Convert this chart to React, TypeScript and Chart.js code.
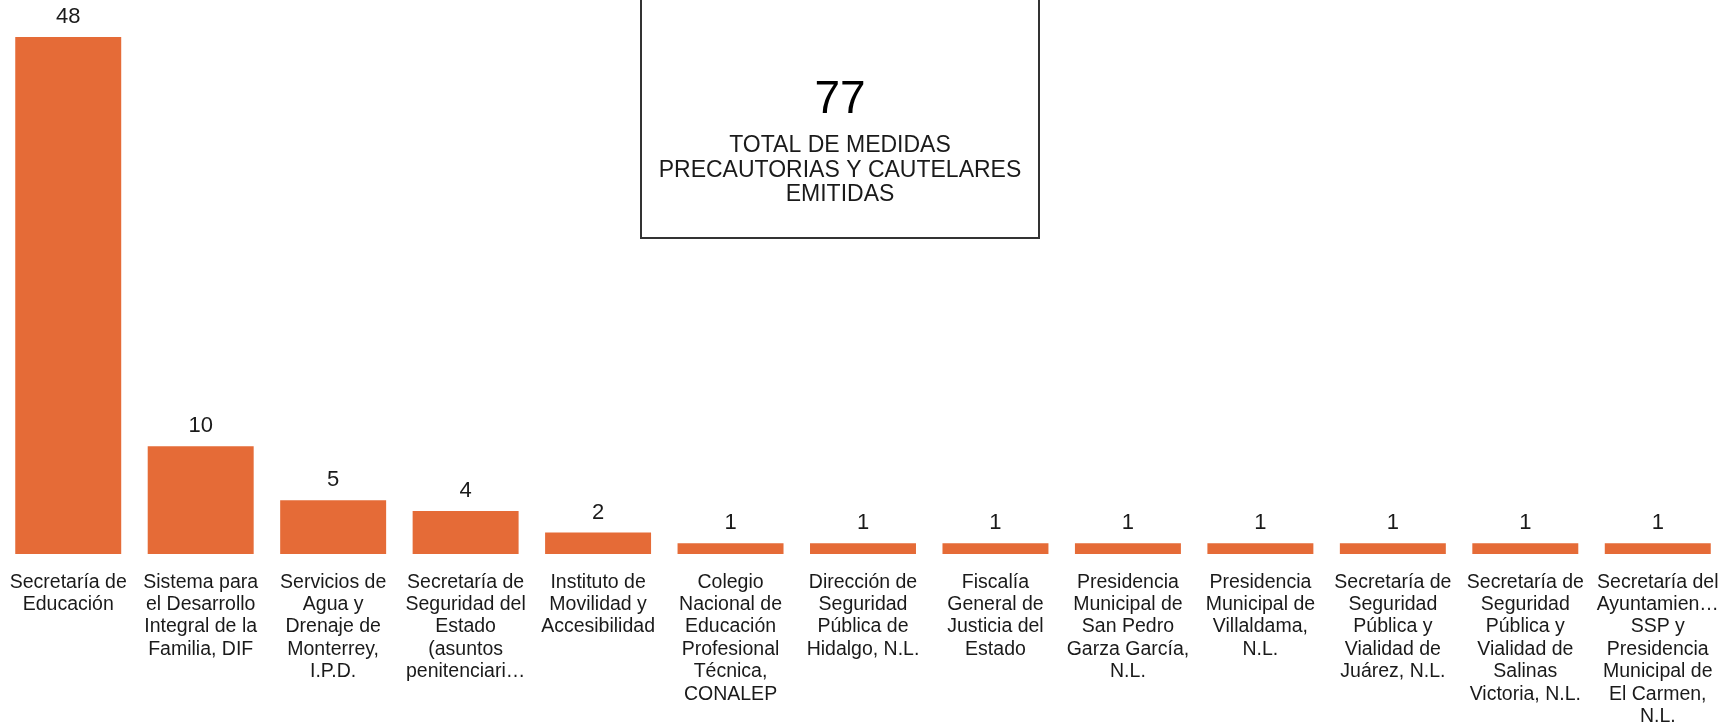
import React, { useEffect, useRef } from "react";
import { Chart, registerables } from "chart.js";

Chart.register(...registerables);

const categories: string[][] = [
  ["Secretaría de", "Educación"],
  ["Sistema para", "el Desarrollo", "Integral de la", "Familia, DIF"],
  ["Servicios de", "Agua y", "Drenaje de", "Monterrey,", "I.P.D."],
  ["Secretaría de", "Seguridad del", "Estado", "(asuntos", "penitenciari…"],
  ["Instituto de", "Movilidad y", "Accesibilidad"],
  ["Colegio", "Nacional de", "Educación", "Profesional", "Técnica,", "CONALEP"],
  ["Dirección de", "Seguridad", "Pública de", "Hidalgo, N.L."],
  ["Fiscalía", "General de", "Justicia del", "Estado"],
  ["Presidencia", "Municipal de", "San Pedro", "Garza García,", "N.L."],
  ["Presidencia", "Municipal de", "Villaldama,", "N.L."],
  ["Secretaría de", "Seguridad", "Pública y", "Vialidad de", "Juárez, N.L."],
  ["Secretaría de", "Seguridad", "Pública y", "Vialidad de", "Salinas", "Victoria, N.L."],
  ["Secretaría del", "Ayuntamien…", "SSP y", "Presidencia", "Municipal de", "El Carmen,", "N.L."],
];

const values: number[] = [48, 10, 5, 4, 2, 1, 1, 1, 1, 1, 1, 1, 1];

const totalValue = "77";
const totalLines: string[] = [
  "TOTAL DE MEDIDAS",
  "PRECAUTORIAS Y CAUTELARES",
  "EMITIDAS",
];

const FONT = "'Liberation Sans', Arial, Helvetica, sans-serif";
const BAR_COLOR = "#E56B37";
const TEXT_COLOR = "#1a1a1a";

export default function App() {
  const ref = useRef<HTMLCanvasElement | null>(null);

  useEffect(() => {
    if (!ref.current) return;

    const valueLabels = {
      id: "valueLabels",
      afterDatasetsDraw(chart: any) {
        const ctx = chart.ctx;
        const meta = chart.getDatasetMeta(0);
        ctx.save();
        ctx.font = `22px ${FONT}`;
        ctx.fillStyle = TEXT_COLOR;
        ctx.textAlign = "center";
        ctx.textBaseline = "middle";
        meta.data.forEach((bar: any, i: number) => {
          ctx.fillText(String(values[i]), bar.x, bar.y - 20);
        });
        ctx.restore();
      },
    };

    const totalBox = {
      id: "totalBox",
      afterDraw(chart: any) {
        const ctx = chart.ctx;
        ctx.save();
        ctx.strokeStyle = "#333333";
        ctx.lineWidth = 2;
        ctx.strokeRect(641, -10, 398, 248);
        ctx.fillStyle = "#000000";
        ctx.textAlign = "center";
        ctx.textBaseline = "middle";
        ctx.font = `46px ${FONT}`;
        ctx.fillText(totalValue, 840, 100);
        ctx.font = `23px ${FONT}`;
        ctx.fillStyle = TEXT_COLOR;
        totalLines.forEach((t, i) => {
          ctx.fillText(t, 840, 146 + i * 24.3);
        });
        ctx.restore();
      },
    };

    const chart = new Chart(ref.current, {
      type: "bar",
      data: {
        labels: categories,
        datasets: [
          {
            data: values,
            backgroundColor: BAR_COLOR,
            borderWidth: 0,
            barPercentage: 0.8,
            categoryPercentage: 1.0,
          },
        ],
      },
      options: {
        responsive: false,
        animation: false,
        devicePixelRatio: 1,
        layout: { padding: { left: 2, right: 12, top: 37, bottom: 0 } },
        plugins: {
          legend: { display: false },
          tooltip: { enabled: false },
          title: { display: false },
        },
        scales: {
          x: {
            grid: { display: false, drawTicks: true, tickLength: 17 },
            border: { display: false },
            afterFit: (scale: any) => {
              scale.height = 170;
            },
            ticks: {
              autoSkip: false,
              maxRotation: 0,
              minRotation: 0,
              padding: 0,
              color: TEXT_COLOR,
              font: { family: FONT, size: 19.5, lineHeight: "22.4px" },
            },
          },
          y: {
            display: false,
            min: 0,
            max: 48,
          },
        },
      },
      plugins: [valueLabels, totalBox],
    });

    return () => chart.destroy();
  }, []);

  return (
    <div style={{ position: "absolute", left: 0, top: 0, width: 1736, height: 724, background: "#fff" }}>
      <canvas ref={ref} width={1736} height={724} style={{ width: 1736, height: 724, display: "block" }} />
    </div>
  );
}
